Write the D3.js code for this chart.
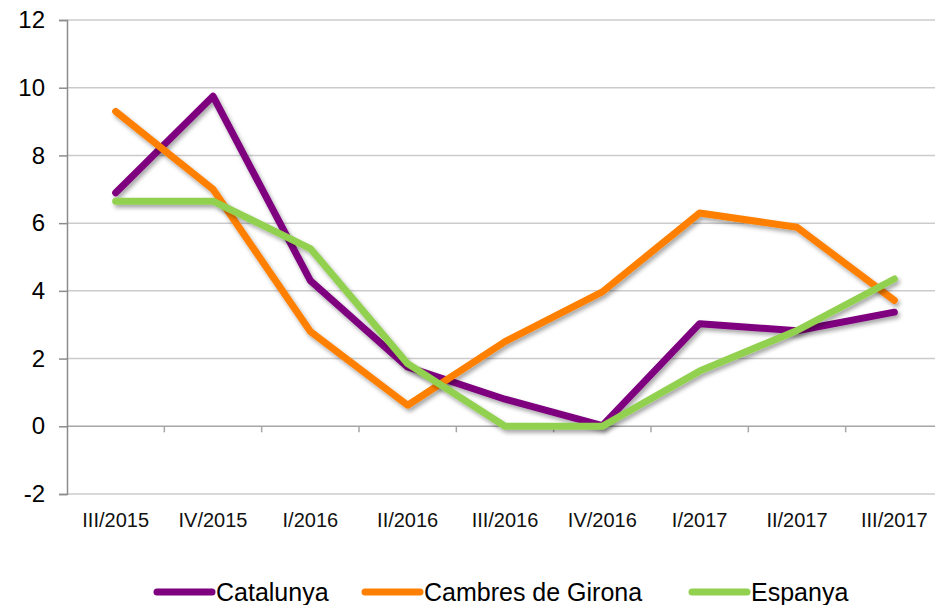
<!DOCTYPE html>
<html>
<head>
<meta charset="utf-8">
<script src="https://cdn.jsdelivr.net/npm/d3@7"></script>
<style>
	body { margin: 0; background: #fff; }
	svg { display: block; font-family: Arial, "Liberation Sans", sans-serif; }
</style>
</head>
<body>
<script>
(function(){
	// Data
	let quarters = ['III/2015', 'IV/2015', 'I/2016', 'II/2016', 'III/2016', 'IV/2016', 'I/2017', 'II/2017', 'III/2017'];
	let catalunya = [6.9, 9.75, 4.3, 1.75, 0.8, 0.02, 3.03, 2.82, 3.37];
	let girona = [9.3, 7.0, 2.8, 0.62, 2.5, 3.97, 6.3, 5.88, 3.72];
	let espanya = [6.65, 6.65, 5.25, 1.85, 0.0, 0.0, 1.63, 2.83, 4.35];
	let yTicks = [-2, 0, 2, 4, 6, 8, 10, 12];

	let series = [
		{name: 'Catalunya', values: catalunya, color: '#7F007F'},
		{name: 'Cambres de Girona', values: girona, color: '#FF8000'},
		{name: 'Espanya', values: espanya, color: '#92D050'}
	];

	let width = 935, height = 605;
	let plot = {left: 67, right: 943, top: 20, bottom: 494};

	let svg = d3.select('body').append('svg')
		.attr('width', width)
		.attr('height', height);

	// Shadow under the lines
	let filter = svg.append('defs').append('filter')
		.attr('id', 'shadow')
		.attr('x', '-10%').attr('y', '-10%')
		.attr('width', '120%').attr('height', '130%');
	filter.append('feDropShadow')
		.attr('dx', 2).attr('dy', 3)
		.attr('stdDeviation', 2)
		.attr('flood-color', '#000')
		.attr('flood-opacity', 0.35);

	let x = d3.scaleBand()
		.domain(quarters)
		.range([plot.left, plot.right]);
	let y = d3.scaleLinear()
		.domain([-2, 12])
		.range([plot.bottom, plot.top]);

	// Gridlines
	svg.append('g')
		.selectAll('line')
		.data(yTicks).enter()
			.append('line')
			.attr('x1', plot.left)
			.attr('x2', width)
			.attr('y1', d => y(d))
			.attr('y2', d => y(d))
			.attr('stroke', d => d === 0 ? '#a6a6a6' : '#cbcbcb')
			.attr('stroke-width', 1.5);

	// Y axis (plain hyphen for the minus sign)
	let yAxis = svg.append('g')
		.attr('transform', 'translate(' + plot.left + ',0)')
		.call(d3.axisLeft(y).tickValues(yTicks).tickSize(8).tickPadding(14).tickFormat(d => String(d)));
	yAxis.select('.domain').attr('stroke', '#8c8c8c').attr('stroke-width', 1.5);
	yAxis.selectAll('.tick line').attr('stroke', '#8c8c8c').attr('stroke-width', 1.5);
	yAxis.selectAll('text')
		.attr('font-size', 24)
		.attr('fill', '#000');

	// Category ticks on the zero line
	svg.append('g')
		.selectAll('line')
		.data(quarters.slice(1)).enter()
			.append('line')
			.attr('x1', d => x(d))
			.attr('x2', d => x(d))
			.attr('y1', y(0))
			.attr('y2', y(0) + 6)
			.attr('stroke', '#a6a6a6')
			.attr('stroke-width', 1.5);

	// Category labels
	svg.append('g')
		.selectAll('text')
		.data(quarters).enter()
			.append('text')
			.attr('x', d => x(d) + x.bandwidth() / 2)
			.attr('y', 527)
			.attr('text-anchor', 'middle')
			.attr('font-size', 20)
			.attr('fill', '#111')
			.text(d => d);

	// Lines
	let line = d3.line()
		.x((d, i) => x(quarters[i]) + x.bandwidth() / 2)
		.y(d => y(d));

	svg.append('g')
		.selectAll('path')
		.data(series).enter()
			.append('path')
			.attr('d', d => line(d.values))
			.attr('fill', 'none')
			.attr('stroke', d => d.color)
			.attr('stroke-width', 7)
			.attr('stroke-linecap', 'round')
			.attr('stroke-linejoin', 'round')
			.attr('filter', 'url(#shadow)');

	// Legend
	let legendX = [157, 365, 692];
	let legend = svg.append('g')
		.selectAll('g')
		.data(series).enter()
			.append('g')
			.attr('transform', (d, i) => 'translate(' + legendX[i] + ',592)');
	legend.append('line')
		.attr('x1', 0)
		.attr('x2', 55)
		.attr('stroke', d => d.color)
		.attr('stroke-width', 7)
		.attr('stroke-linecap', 'round');
	legend.append('text')
		.attr('x', 59)
		.attr('y', 9)
		.attr('font-size', 25)
		.attr('fill', '#000')
		.text(d => d.name);
})();
</script>
</body>
</html>
